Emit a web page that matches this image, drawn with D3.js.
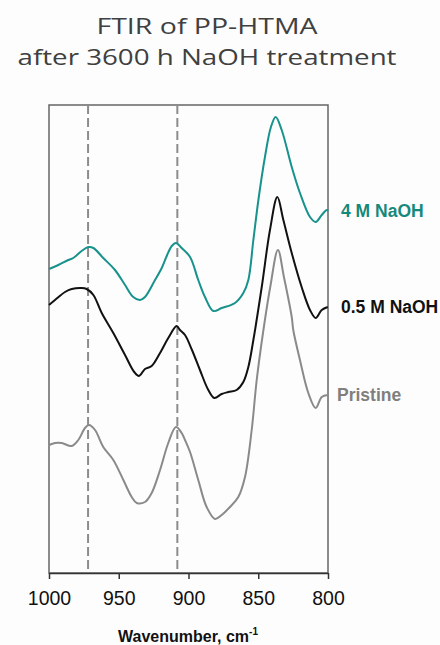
<!DOCTYPE html>
<html>
<head>
<meta charset="utf-8">
<script src="https://cdn.jsdelivr.net/npm/d3@7"></script>
<style>
  body { margin: 0; background: #fdfdfd; }
  svg { display: block; }
</style>
</head>
<body>
<svg id="chart"></svg>
<script>
// wavenumber (cm-1) / absorbance (a.u., stacked with offsets)
let wnTeal = [1000, 993.3, 986.2, 982.6, 976.6, 971.8, 968.2, 961.1, 952.7, 945.5, 939.6, 934.8, 931.2, 924.0, 919.2, 915.6, 912.0, 909.0, 904.9, 898.9, 893.0, 888.2, 882.2, 876.2, 866.7, 860.7, 857.1, 853.5, 849.9, 845.2, 840.9, 837.5, 833.2, 826.0, 820.1, 812.9, 808.8, 804.5, 800.9, 800];
let absTeal = [3.04, 3.08, 3.13, 3.15, 3.22, 3.26, 3.25, 3.15, 3.03, 2.88, 2.76, 2.73, 2.76, 2.93, 3.05, 3.17, 3.27, 3.30, 3.25, 3.16, 2.93, 2.76, 2.62, 2.65, 2.70, 2.80, 2.93, 3.33, 3.73, 4.16, 4.46, 4.56, 4.43, 4.06, 3.80, 3.56, 3.51, 3.58, 3.63, 3.62];

let wnBlack = [1000, 995.7, 988.5, 983.7, 976.6, 973.0, 968.2, 962.2, 953.9, 945.5, 938.9, 935.5, 931.2, 926.4, 920.4, 914.5, 908.5, 906.1, 902.5, 897.5, 891.8, 885.8, 881.5, 876.2, 871.5, 865.5, 860.7, 857.1, 853.5, 847.5, 841.6, 836.3, 832.0, 826.0, 818.9, 812.9, 808.8, 804.5, 800.2];
let absBlack = [2.68, 2.73, 2.81, 2.84, 2.85, 2.84, 2.78, 2.60, 2.40, 2.18, 2.01, 1.97, 2.04, 2.07, 2.20, 2.35, 2.47, 2.43, 2.38, 2.23, 2.03, 1.83, 1.75, 1.79, 1.81, 1.83, 1.91, 2.06, 2.33, 2.86, 3.43, 3.76, 3.53, 3.20, 2.86, 2.63, 2.55, 2.63, 2.66];

let wnGray = [1000, 995.7, 990.9, 983.7, 979.0, 974.2, 971.3, 967.0, 961.1, 953.9, 946.7, 940.7, 937.1, 931.2, 926.4, 920.4, 914.5, 909.0, 904.9, 902.5, 898.9, 893.0, 887.0, 881.0, 876.2, 870.3, 864.3, 859.5, 854.7, 851.1, 846.6, 841.4, 835.9, 831.6, 826.0, 824.9, 820.1, 814.1, 808.8, 804.5, 800.2];
let absGray = [1.28, 1.30, 1.30, 1.27, 1.33, 1.45, 1.48, 1.43, 1.26, 1.13, 0.93, 0.76, 0.70, 0.71, 0.80, 1.03, 1.30, 1.46, 1.40, 1.33, 1.21, 0.93, 0.66, 0.54, 0.58, 0.66, 0.76, 0.96, 1.43, 1.93, 2.40, 2.86, 3.23, 2.96, 2.56, 2.43, 2.13, 1.80, 1.65, 1.76, 1.78];

let seriesNames = ['4 M NaOH', '0.5 M NaOH', 'Pristine'];
let markerLines = [972, 908];
let xTicks = [1000, 950, 900, 850, 800];
let titleLines = ['FTIR of PP-HTMA', 'after 3600 h NaOH treatment'];

let W = 440, H = 645;
let margin = {top: 105, right: 112, bottom: 72, left: 49};

let svg = d3.select('#chart')
  .attr('width', W)
  .attr('height', H);

let xScale = d3.scaleLinear()
  .domain([1000, 800])
  .range([margin.left, W - margin.right]);

let yScale = d3.scaleLinear()
  .domain([0, 4.68])
  .range([H - margin.bottom, margin.top]);

let series = [
  {name: seriesNames[0], wn: wnTeal, abs: absTeal, color: '#17928c', label: '#15897a'},
  {name: seriesNames[1], wn: wnBlack, abs: absBlack, color: '#111111', label: '#111111'},
  {name: seriesNames[2], wn: wnGray, abs: absGray, color: '#8a8a8a', label: '#7f7f7f'}
];

// title
svg.selectAll('.title')
  .data(titleLines)
  .enter()
  .append('text')
  .attr('class', 'title')
  .attr('x', 207)
  .attr('y', (d, i) => 34 + i * 31)
  .attr('text-anchor', 'middle')
  .attr('font-family', '"Open Sans", sans-serif')
  .attr('font-size', 22.5)
  .attr('fill', '#404040')
  .attr('textLength', (d, i) => i === 0 ? 221 : 379)
  .attr('lengthAdjust', 'spacingAndGlyphs')
  .text((d) => d);

// plot frame
svg.append('rect')
  .attr('x', xScale(1000))
  .attr('y', yScale(4.68))
  .attr('width', xScale(800) - xScale(1000))
  .attr('height', yScale(0) - yScale(4.68))
  .attr('fill', 'none')
  .attr('stroke', '#666')
  .attr('stroke-width', 1.5);

// dashed marker lines
svg.selectAll('.marker')
  .data(markerLines)
  .enter()
  .append('line')
  .attr('class', 'marker')
  .attr('x1', (d) => xScale(d))
  .attr('x2', (d) => xScale(d))
  .attr('y1', yScale(4.68))
  .attr('y2', yScale(0))
  .attr('stroke', '#8c8c8c')
  .attr('stroke-width', 2)
  .attr('stroke-dasharray', '9,4');

let line = d3.line()
  .x((d) => xScale(d[0]))
  .y((d) => yScale(d[1]))
  .curve(d3.curveCatmullRom.alpha(0.5));

svg.selectAll('.spectrum')
  .data(series)
  .enter()
  .append('path')
  .attr('class', 'spectrum')
  .attr('d', (s) => line(s.wn.map((w, i) => [w, s.abs[i]])))
  .attr('fill', 'none')
  .attr('stroke', (s) => s.color)
  .attr('stroke-width', 2)
  .attr('stroke-linejoin', 'round');

// labels at the right end of each spectrum
svg.selectAll('.label')
  .data(series)
  .enter()
  .append('text')
  .attr('class', 'label')
  .attr('x', (s, i) => i === 2 ? 337 : 341)
  .attr('y', (s) => yScale(s.abs[s.abs.length - 1]) + 6)
  .attr('font-family', '"Liberation Sans", Arial, sans-serif')
  .attr('font-weight', 'bold')
  .attr('font-size', 17.5)
  .attr('fill', (s) => s.label)
  .text((s) => s.name);

// x axis
let xAxis = svg.append('g')
  .attr('transform', 'translate(0,' + yScale(0) + ')')
  .call(d3.axisBottom(xScale)
    .tickValues(xTicks)
    .tickFormat(d3.format('d'))
    .tickSize(6)
    .tickSizeOuter(0)
    .tickPadding(12));

xAxis.select('.domain').attr('stroke', '#333').attr('stroke-width', 1.5);
xAxis.selectAll('.tick line').attr('stroke', '#333').attr('stroke-width', 1.5);
xAxis.selectAll('.tick text')
  .attr('font-family', '"Liberation Sans", Arial, sans-serif')
  .attr('font-size', 19.5)
  .attr('fill', '#111');

let xLabel = svg.append('text')
  .attr('x', 188)
  .attr('y', 642)
  .attr('text-anchor', 'middle')
  .attr('font-family', '"Liberation Sans", Arial, sans-serif')
  .attr('font-weight', 'bold')
  .attr('font-size', 16)
  .attr('fill', '#111');
xLabel.append('tspan').text('Wavenumber, cm');
xLabel.append('tspan')
  .attr('dy', -7)
  .attr('font-size', 10)
  .text('-1');
</script>
</body>
</html>
